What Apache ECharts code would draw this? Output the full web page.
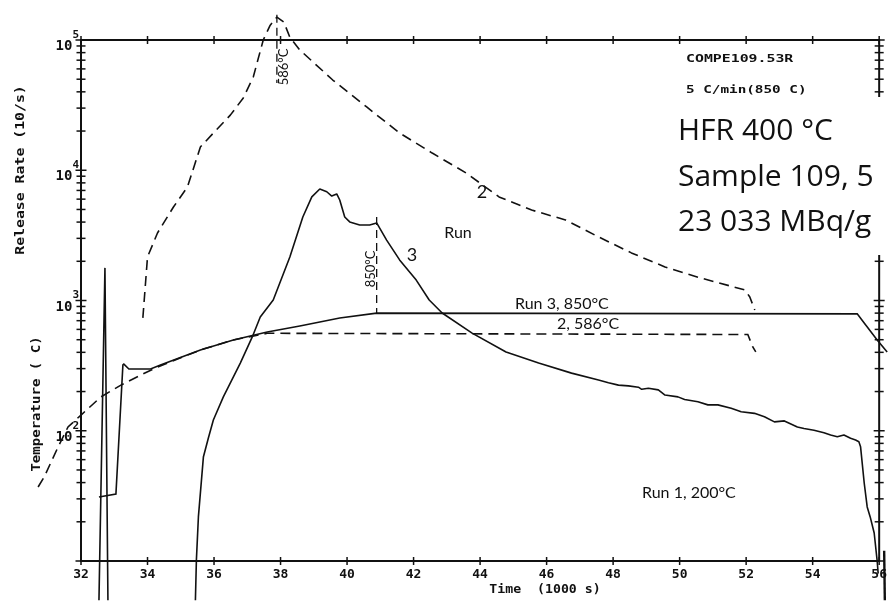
<!DOCTYPE html>
<html><head><meta charset="utf-8">
<script src="https://cdn.jsdelivr.net/npm/echarts@6/dist/echarts.min.js"></script>
<style>html,body{margin:0;padding:0;background:#fff}#c{width:890px;height:603px}</style>
</head><body><div id="c"></div>
<script>
// axis ranges
const xMin = 32, xMax = 56, xStep = 2;
const yMin = 10, yMax = 100000;
const yLabelDecades = [2, 3, 4, 5];

// Run 2 release rate (dashed)
const run2Release = [[33.86,735],[34.0,2160],[34.3,3300],[34.78,5220],[35.2,7430],[35.59,15100],[35.98,19300],[36.49,26500],[36.88,35900],[37.18,52000],[37.48,100000],[37.69,130000],[37.89,150000],[38.1,137000],[38.28,105000],[38.58,83800],[39.57,49300],[40.59,30600],[41.58,19300],[42.56,13550],[43.58,9530],[44.57,6240],[45.55,4950],[46.57,4150],[47.56,3080],[48.55,2320],[49.56,1810],[50.55,1510],[51.96,1205],[52.11,1065],[52.26,845]];

// Run 3 release rate (solid)
const run3Release = [[35.44,5],[35.47,10.2],[35.53,21.8],[35.68,62.8],[35.83,87.9],[35.98,121],[36.28,182],[36.79,331],[37.15,525],[37.39,747],[37.78,1009],[38.28,2158],[38.67,4375],[38.94,6240],[39.18,7180],[39.39,6840],[39.54,6340],[39.69,6580],[39.78,5910],[39.93,4375],[40.08,4010],[40.38,3800],[40.68,3800],[40.89,3940],[41.19,2910],[41.58,2050],[42.08,1435],[42.47,1009],[42.86,802],[43.76,562],[44.78,402],[45.76,331],[46.75,277],[47.56,245],[47.86,234],[48.16,224],[48.46,221],[48.76,216],[48.86,208],[49.06,212],[49.36,206],[49.56,188],[49.95,182],[50.15,174],[50.55,167],[50.85,158],[51.15,158],[51.55,149],[51.85,140],[52.25,136],[52.55,128],[52.85,117],[53.15,119],[53.54,107],[53.74,104],[54.04,101],[54.34,96.6],[54.54,92.7],[54.74,89.9],[54.94,92.7],[55.14,87.5],[55.29,84.9],[55.39,82.4],[55.44,75.5],[55.55,39.7],[55.64,26],[55.73,21.8],[55.85,16.4],[55.94,10],[55.97,8]];

// Run 1 release spike (solid)
const run1Spike = [[32.54,5],[32.72,1780],[32.81,5]];
const endSpike = [[56.15,12],[56.17,5]];

// Temperatures (same log axis)
const run3Temp = [[32.54,31],[33.05,32.7],[33.26,320],[33.29,325],[33.44,298],[34.09,298],[34.39,320],[35.59,417],[36.58,498],[37.6,573],[38.58,637],[39.78,735],[40.89,800],[55.34,790],[55.55,671],[55.94,498],[56.24,403]];
const run2Temp = [[30.71,37],[30.89,44],[31.31,75],[31.61,107],[32.0,132],[32.6,182],[33.2,224],[33.8,268],[34.3,308],[35.59,417],[36.58,498],[37.6,560],[37.89,560],[52.05,548],[52.2,440],[52.29,403]];

// marker lines
const peakMarker = [[37.89,156000],[37.89,46800]];
const marker850 = [[40.89,4375],[40.89,800]];

const INK = '#111';
const MONO = 'DejaVu Sans Mono';
const HAND = 'Lato';

// tick definitions (axis furniture)
const tickData = [];
for (let x = xMin; x <= xMax; x += xStep) { tickData.push([x, yMin, 0, 1]); tickData.push([x, yMax, 1, 1]); }
for (let d = 1; d <= 4; d++) for (let m = 1; m <= 9; m++) {
  const v = m * Math.pow(10, d);
  tickData.push([xMin, v, 2, m === 1 ? 1 : 0]); tickData.push([xMax, v, 3, m === 1 ? 1 : 0]);
}
tickData.push([xMin, yMax, 2, 1]); tickData.push([xMax, yMax, 3, 1]);

const chart = echarts.init(document.getElementById('c'), null, {renderer: 'canvas'});
function line(name, data, dashed, extra) {
  return Object.assign({
    name, type: 'line', data, symbol: 'none', clip: false, smooth: false,
    lineStyle: {color: INK, width: 1.6, type: dashed ? [10, 6] : 'solid'},
    silent: true, z: 3
  }, extra || {});
}
// polyline through the library's coordinate system, not limited to the x extent
function poly(name, data, dashed, width) {
  return {
    name, type: 'custom', data, silent: true, z: 3, clip: false,
    renderItem: function (params, api) {
      if (params.dataIndex !== 0) return null;
      const pts = data.map(function (d) { return api.coord(d); });
      return {type: 'polyline', shape: {points: pts}, style: {stroke: INK, fill: null, lineWidth: width || 1.6, lineDash: dashed ? [10, 6] : null}};
    }
  };
}
function txt(text, x, y, o) {
  return Object.assign({type: 'text', x, y, z: 60, style: Object.assign({text, fill: INK, font: '15px ' + HAND, align: 'left', verticalAlign: 'middle'}, (o && o.style) || {})}, o ? {rotation: o.rotation || 0, scaleX: o.scaleX || 1} : {});
}

chart.setOption({
  animation: false,
  backgroundColor: '#fff',
  grid: {left: 81, right: 8, top: 40, bottom: 42, show: true, borderColor: INK, borderWidth: 2, backgroundColor: 'transparent'},
  xAxis: {
    type: 'value', min: xMin, max: xMax, interval: xStep,
    axisLine: {show: false}, axisTick: {show: false}, splitLine: {show: false},
    axisLabel: {color: INK, fontFamily: MONO, fontWeight: 'bold', fontSize: 13, margin: 7}
  },
  yAxis: {
    type: 'log', logBase: 10, min: yMin, max: yMax,
    axisLine: {show: false}, axisTick: {show: false}, splitLine: {show: false},
    axisLabel: {
      margin: 2,
      formatter: function (v) {
        const e = Math.round(Math.log10(v));
        return yLabelDecades.indexOf(e) >= 0 ? '{b|10}{e|' + e + '}' : '';
      },
      rich: {
        b: {fontFamily: MONO, fontWeight: 'bold', fontSize: 14, color: INK, padding: [13, 0, 0, 0]},
        e: {fontFamily: MONO, fontWeight: 'bold', fontSize: 11, color: INK, padding: [0, 0, 10, 0]}
      }
    }
  },
  series: [
    line('Run 2 release', run2Release, true),
    line('Run 3 release', run3Release, false),
    line('Run 1 spike', run1Spike, false),
    poly('End spike', endSpike, false, 2.4),
    poly('Run 3 temperature', run3Temp, false),
    poly('Run 2 temperature', run2Temp, true),
    line('Peak marker', peakMarker, true, {lineStyle: {color: INK, width: 1.3, type: [8, 5]}}),
    line('850 marker', marker850, true, {lineStyle: {color: INK, width: 1.3, type: [8, 5]}}),
    {
      type: 'custom', name: 'ticks', data: tickData, silent: true, z: 4,
      renderItem: function (params, api) {
        const k = api.value(2), big = api.value(3);
        const p = api.coord([api.value(0), api.value(1)]);
        let s;
        if (k < 2) s = {x1: p[0], y1: p[1] - 4, x2: p[0], y2: p[1] + 4};
        else { const h = big ? 5.5 : 4.5; s = {x1: p[0] - h, y1: p[1], x2: p[0] + h, y2: p[1]}; }
        return {type: 'line', shape: s, style: {stroke: INK, lineWidth: 1.5}};
      }
    }
  ],
  graphic: [
    // axis titles
    txt('Release Rate (10/s)', 21, 170, {rotation: Math.PI / 2, scaleX: 1.14, style: {font: 'bold 13px ' + MONO, align: 'center'}}),
    txt('Temperature ( C)', 37, 404, {rotation: Math.PI / 2, scaleX: 1.08, style: {font: 'bold 13px ' + MONO, align: 'center'}}),
    txt('Time  (1000 s)', 545, 590, {scaleX: 1.1, style: {font: 'bold 12px ' + MONO, align: 'center'}}),
    // plotter header
    txt('COMPE109.53R', 686, 59, {scaleX: 1.35, style: {font: 'bold 11px ' + MONO}}),
    txt('5 C/min(850 C)', 686, 90, {scaleX: 1.3, style: {font: 'bold 11px ' + MONO}}),
    // white label box
    {type: 'rect', shape: {x: 672, y: 97, width: 218, height: 158}, style: {fill: '#fff'}, z: 55},
    txt('HFR 400 °C', 678, 131, {style: {font: '30px "Open Sans"'}}),
    txt('Sample 109, 5', 678, 177, {style: {font: '30px "Open Sans"'}}),
    txt('23 033 MBq/g', 678, 222, {style: {font: '30px "Open Sans"'}}),
    // handwritten annotations
    txt('586°C', 284, 67, {rotation: Math.PI / 2, style: {font: '13px ' + HAND, align: 'center'}}),
    txt('850°C', 371, 269, {rotation: Math.PI / 2, style: {font: '13px ' + HAND, align: 'center'}}),
    txt('2', 482, 192, {style: {font: '18px ' + HAND, align: 'center'}}),
    txt('Run', 458, 233, {style: {font: '16px ' + HAND, align: 'center'}}),
    txt('3', 412, 255, {style: {font: '18px ' + HAND, align: 'center'}}),
    txt('Run 3, 850°C', 515, 304, {style: {font: '16px ' + HAND}}),
    txt('2, 586°C', 557, 324, {style: {font: '16px ' + HAND}}),
    txt('Run 1, 200°C', 642, 493, {style: {font: '16px ' + HAND}})
  ]
});
</script>
</body></html>
